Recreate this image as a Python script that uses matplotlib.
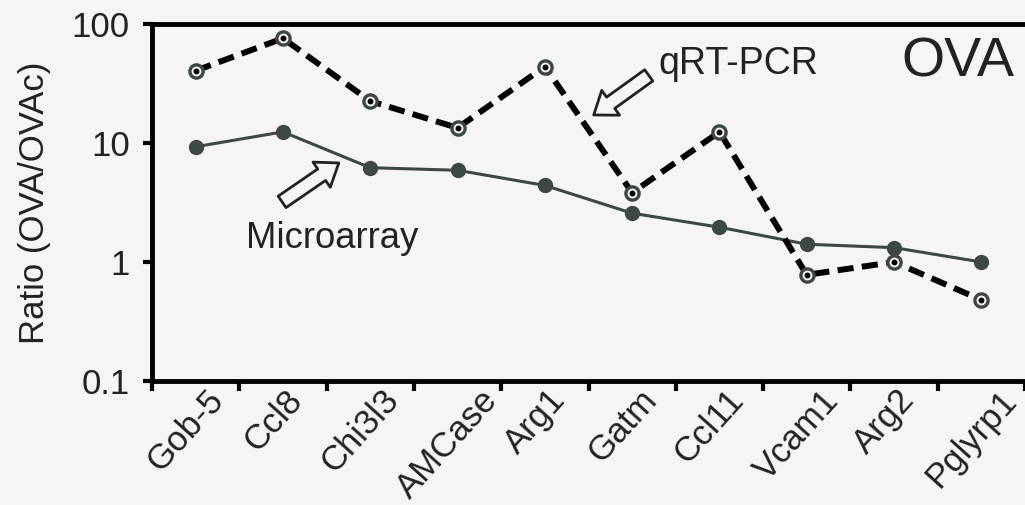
import matplotlib
matplotlib.use("Agg")
import matplotlib.pyplot as plt
from matplotlib.transforms import ScaledTranslation
import numpy as np

genes = ["Gob-5", "Ccl8", "Chi3l3", "AMCase", "Arg1", "Gatm", "Ccl11",
         "Vcam1", "Arg2", "Pglyrp1"]
qrtpcr = [40.5, 75.8, 22.5, 13.4, 43.8, 3.82, 12.4, 0.78, 1.0, 0.48]
microarray = [9.3, 12.4, 6.2, 5.9, 4.4, 2.57, 1.96, 1.41, 1.32, 1.0]
yticks = [0.1, 1, 10, 100]
ytick_labels = ["0.1", "1", "10", "100"]

BG = "#f5f5f5"
GREY = "#3d4846"
TXT = "#222222"

plt.rcParams["font.family"] = ["Liberation Sans", "DejaVu Sans"]

fig = plt.figure(figsize=(10.25, 5.05), dpi=100, facecolor=BG)
ax = fig.add_axes([152 / 1025, 1 - 381 / 505, 1 - 152 / 1025, (381 - 24) / 505])
ax.set_facecolor(BG)

x = np.arange(len(genes))

# microarray: solid line with filled markers
ax.plot(x, microarray, color=GREY, lw=2.2, marker="o", ms=10,
        mfc=GREY, mec=GREY, zorder=3)

# qRT-PCR: heavy dashed line with ring markers and dark centres
line, = ax.plot(x, qrtpcr, color="black", lw=4.3, zorder=4)
line.set_dashes((2.7, 1.4))
ax.plot(x, qrtpcr, ls="none", marker="o", ms=9.5, mfc=BG, mec=GREY,
        mew=2.4, zorder=5)
ax.plot(x, qrtpcr, ls="none", marker="o", ms=3.2, mfc="black",
        mec="black", zorder=6)

ax.set_yscale("log")
ax.set_ylim(0.1, 100)
ax.set_xlim(-0.5, 9.42)

ax.set_yticks(yticks)
ax.set_yticklabels(ytick_labels)
ax.yaxis.set_minor_locator(matplotlib.ticker.NullLocator())

# ticks sit between categories, labels under each point
ax.set_xticks(np.arange(-0.5, 10, 1.0))
ax.set_xticklabels([])
ax.set_xticks(x, minor=True)
ax.set_xticklabels(genes, minor=True, rotation=48, ha="center", va="top",
                   fontsize=25, color=TXT)
ax.tick_params(axis="x", which="minor", length=0, pad=2)
ax.tick_params(axis="x", which="major", length=7, width=3, color="black")
ax.tick_params(axis="y", which="major", length=6.5, width=3, pad=9.5,
               labelsize=25, labelcolor=TXT)
shift = ScaledTranslation(-10 / 100, 0, fig.dpi_scale_trans)
for lab in ax.get_xticklabels(minor=True):
    lab.set_transform(lab.get_transform() + shift)

for side in ("left", "bottom", "top"):
    ax.spines[side].set_linewidth(3.5)
    ax.spines[side].set_color("black")
ax.spines["right"].set_visible(False)

ax.set_ylabel("Ratio (OVA/OVAc)", fontsize=25, color=TXT, labelpad=15)

arrow_props = dict(arrowstyle="simple,head_length=0.75,head_width=1.1,tail_width=0.5",
                   mutation_scale=20, fc=BG, ec=TXT, lw=2.0,
                   shrinkA=0, shrinkB=0)
ax.annotate("", xy=(1.64, 6.8), xytext=(0.99, 3.2), arrowprops=arrow_props)
ax.annotate("", xy=(4.56, 17.2), xytext=(5.19, 37.0), arrowprops=arrow_props)

ax.text(0.58, 1.31, "Microarray", fontsize=26.3, color=TXT,
        ha="left", va="baseline")
ax.text(5.30, 38.0, "qRT-PCR", fontsize=27, color=TXT,
        ha="left", va="baseline")
ax.text(8.08, 35.9, "OVA", fontsize=40, color=TXT, ha="left", va="baseline")

fig.savefig("out.png", dpi=100, facecolor=BG)
